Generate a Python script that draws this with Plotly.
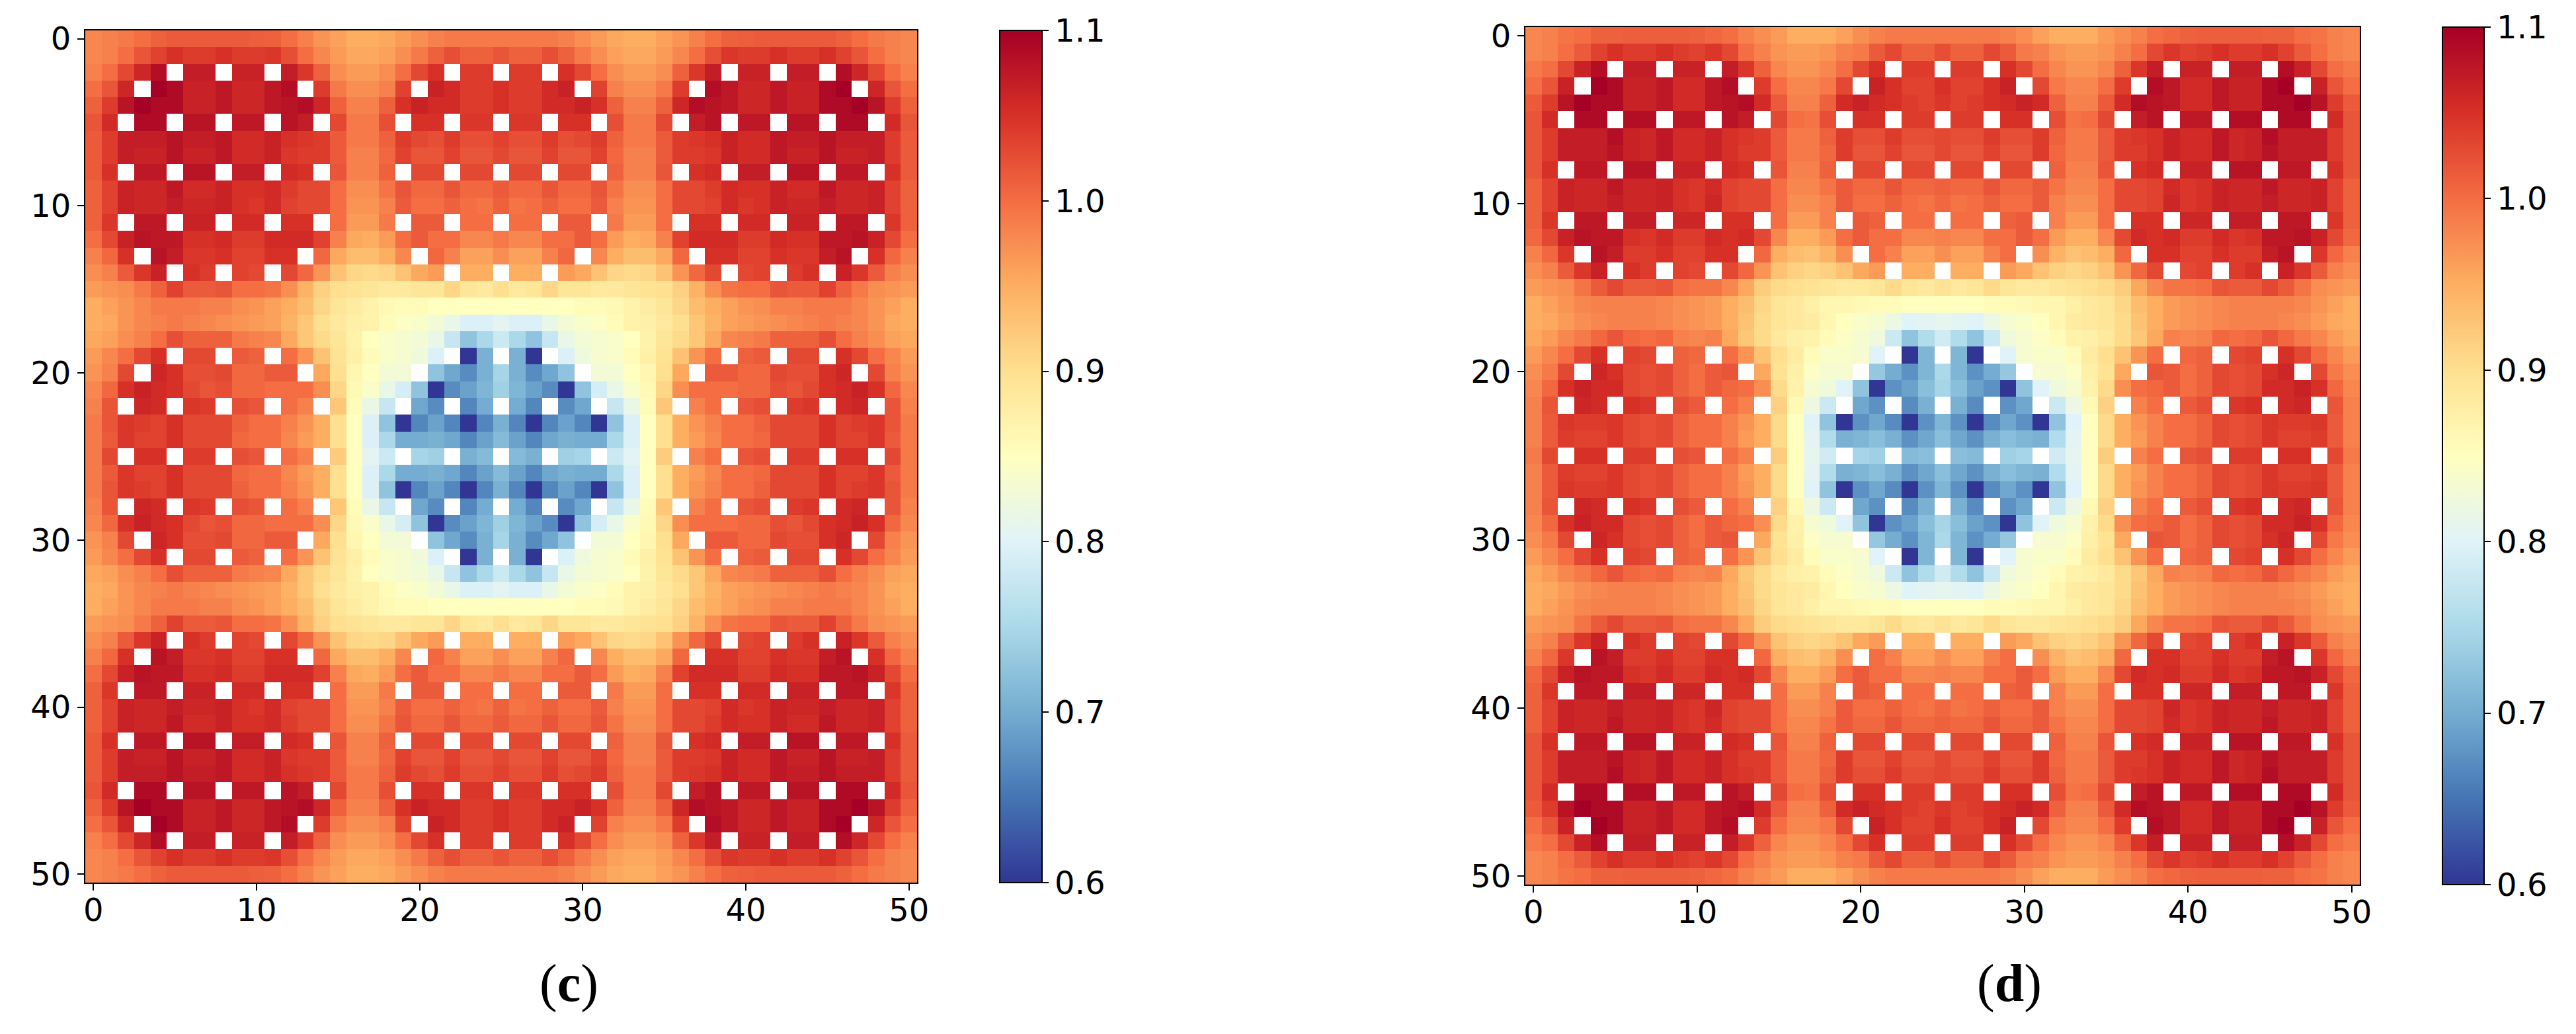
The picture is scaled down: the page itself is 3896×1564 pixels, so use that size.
import plotly.graph_objects as go

H = None  # white cell with no value

# Values. Each panel is mirror-symmetric left/right and top/bottom,
# so rows 0-25 and columns 0-25 carry the reading.
panel_c_rows = [
    [.98,.985,.99,1.0,1.01,1.015,1.015,1.015,1.015,1.015,1.012,1.01,1.0,.985,.97,.96,.95,.95,.955,.965,.975,.985,.99,.99,.99,.99],
    [.98,.985,1.0,1.02,1.035,1.05,1.04,1.04,1.05,1.04,1.04,1.045,1.025,1.0,.98,.965,.955,.955,.96,.975,.99,1.01,1.025,1.01,1.01,1.02],
    [.985,1.0,1.03,1.06,1.085,H,1.07,1.07,H,1.065,1.065,H,1.07,1.045,1.01,.975,.965,.965,.975,1.0,1.03,1.05,H,1.04,1.04,H],
    [1.0,1.02,1.06,H,1.1,1.09,1.065,1.065,1.075,1.06,1.06,1.075,1.085,H,1.04,.99,.975,.975,.985,1.035,H,1.065,1.055,1.04,1.04,1.05],
    [1.01,1.04,1.08,1.1,1.09,1.09,1.065,1.065,1.075,1.06,1.06,1.075,1.08,1.085,1.06,1.01,.985,.985,1.01,1.05,1.065,1.055,1.055,1.04,1.04,1.05],
    [1.02,1.055,H,1.09,1.09,H,1.08,1.08,H,1.075,1.075,H,1.08,1.07,H,1.03,.99,.99,1.025,H,1.05,1.05,H,1.045,1.045,H],
    [1.015,1.04,1.07,1.07,1.07,1.08,1.07,1.07,1.075,1.055,1.055,1.065,1.05,1.045,1.04,1.015,.99,.99,1.01,1.04,1.03,1.025,1.04,1.025,1.025,1.035],
    [1.015,1.04,1.07,1.065,1.065,1.08,1.065,1.065,1.075,1.055,1.055,1.065,1.045,1.04,1.04,1.015,.985,.985,1.005,1.035,1.02,1.02,1.035,1.02,1.02,1.03],
    [1.015,1.05,H,1.075,1.075,H,1.08,1.08,H,1.07,1.07,H,1.055,1.05,H,1.02,.985,.985,1.01,H,1.03,1.03,H,1.03,1.03,H],
    [1.01,1.035,1.065,1.06,1.06,1.075,1.055,1.055,1.065,1.05,1.05,1.055,1.04,1.03,1.03,1.0,.975,.975,.995,1.02,1.005,1.005,1.02,1.005,1.005,1.015],
    [1.01,1.035,1.065,1.06,1.06,1.07,1.06,1.06,1.065,1.05,1.045,1.055,1.035,1.03,1.03,1.0,.97,.97,.985,1.015,1.0,1.0,1.01,1.0,.995,1.01],
    [1.01,1.045,H,1.075,1.075,H,1.065,1.065,H,1.055,1.055,H,1.05,1.05,H,1.0,.965,.965,.99,H,1.015,1.015,H,1.0,1.0,H],
    [1.0,1.03,1.065,1.08,1.075,1.075,1.05,1.05,1.055,1.04,1.04,1.055,1.055,1.055,1.035,.985,.955,.95,.965,1.0,1.015,1.0,1.0,.98,.98,.99],
    [.985,1.005,1.05,H,1.08,1.07,1.045,1.045,1.05,1.035,1.035,1.05,1.05,H,1.005,.955,.935,.935,.95,.98,H,1.005,.985,.96,.96,.975],
    [.975,.985,1.015,1.045,1.065,H,1.05,1.04,H,1.035,1.03,H,1.03,1.005,.97,.93,.91,.905,.91,.93,.955,.965,H,.95,.95,H],
    [.965,.97,.975,.99,1.01,1.035,1.015,1.015,1.02,1.0,1.0,.995,.975,.945,.915,.90,.895,.89,.885,.885,.89,.89,.91,.89,.885,.9],
    [.95,.96,.97,.98,.99,.99,.99,.985,.985,.975,.97,.96,.95,.935,.91,.89,.88,.87,.86,.855,.855,.85,.85,.85,.85,.85],
    [.95,.955,.97,.98,.985,.99,.985,.98,.975,.97,.965,.96,.945,.925,.9,.885,.875,.87,.855,.845,.84,.83,.815,.795,.795,.805],
    [.955,.96,.975,.985,1.0,1.025,1.01,1.01,1.01,.99,.985,.98,.955,.925,.905,.89,.87,.85,.84,.835,.83,.815,.775,.725,.75,.78],
    [.965,.98,1.0,1.03,1.05,H,1.03,1.03,H,1.015,1.01,H,1.0,.97,.93,.895,.875,.855,.84,.835,.825,.795,H,.6,.705,H],
    [.97,.985,1.03,H,1.06,1.05,1.025,1.025,1.03,1.005,1.005,1.015,1.015,H,.955,.9,.865,.85,.83,.83,H,.725,.695,.67,.705,.745],
    [.98,1.005,1.05,1.065,1.055,1.05,1.03,1.02,1.025,1.005,1.005,1.0,1.0,1.0,.975,.91,.86,.84,.815,.79,.725,.6,.67,.69,.71,.74],
    [.985,1.02,H,1.06,1.055,H,1.045,1.04,H,1.025,1.02,H,1.0,.985,H,.925,.855,.815,.775,H,.695,.67,H,.665,.70,H],
    [.99,1.02,1.045,1.04,1.035,1.05,1.03,1.03,1.03,1.01,1.0,1.0,.985,.97,.95,.9,.85,.795,.725,.6,.665,.69,.665,.6,.665,.705],
    [.99,1.015,1.045,1.035,1.035,1.05,1.03,1.03,1.03,1.005,1.0,1.0,.98,.965,.95,.9,.85,.795,.75,.70,.70,.705,.695,.665,.69,.715],
    [.99,1.03,H,1.05,1.05,H,1.04,1.04,H,1.025,1.02,H,1.0,.985,H,.92,.85,.805,.78,H,.745,.74,H,.705,.715,H],
]

panel_d_rows = [
    [.98,.985,.995,1.0,1.01,1.01,1.012,1.012,1.012,1.012,1.01,1.005,1.0,.985,.975,.965,.95,.95,.95,.96,.975,.985,.99,.99,.99,.99],
    [.98,.985,1.0,1.015,1.035,1.05,1.04,1.04,1.05,1.04,1.035,1.045,1.03,1.0,.985,.97,.965,.965,.97,.985,.99,1.015,1.03,1.01,1.01,1.025],
    [.99,1.0,1.03,1.065,1.085,H,1.07,1.07,H,1.065,1.065,H,1.07,1.045,1.01,.98,.97,.97,.98,1.0,1.03,1.05,H,1.04,1.04,H],
    [1.0,1.02,1.065,H,1.1,1.09,1.065,1.065,1.075,1.055,1.055,1.075,1.085,H,1.04,1.0,.98,.98,.99,1.03,H,1.065,1.05,1.035,1.035,1.05],
    [1.015,1.04,1.08,1.1,1.09,1.09,1.065,1.065,1.075,1.055,1.055,1.075,1.08,1.085,1.055,1.015,.985,.985,1.01,1.055,1.065,1.055,1.05,1.04,1.035,1.045],
    [1.02,1.055,H,1.09,1.09,H,1.085,1.085,H,1.075,1.075,H,1.08,1.07,H,1.03,1.0,.995,1.025,H,1.05,1.05,H,1.04,1.04,H],
    [1.02,1.04,1.07,1.07,1.07,1.085,1.065,1.06,1.075,1.055,1.055,1.065,1.05,1.045,1.04,1.015,.99,.99,1.01,1.04,1.025,1.025,1.04,1.025,1.025,1.03],
    [1.02,1.04,1.07,1.07,1.07,1.08,1.065,1.06,1.075,1.055,1.055,1.065,1.05,1.04,1.04,1.015,.99,.99,1.005,1.04,1.02,1.02,1.035,1.02,1.02,1.03],
    [1.02,1.05,H,1.075,1.075,H,1.08,1.08,H,1.065,1.065,H,1.055,1.05,H,1.02,.985,.985,1.01,H,1.03,1.03,H,1.03,1.03,H],
    [1.01,1.035,1.065,1.06,1.06,1.075,1.06,1.06,1.065,1.05,1.045,1.055,1.035,1.03,1.03,1.0,.98,.98,.995,1.015,1.005,1.005,1.02,1.005,1.005,1.01],
    [1.01,1.035,1.065,1.06,1.06,1.07,1.06,1.06,1.065,1.05,1.045,1.06,1.035,1.03,1.03,1.0,.975,.975,.985,1.015,1.0,1.0,1.01,1.0,.995,1.005],
    [1.01,1.045,H,1.075,1.075,H,1.07,1.07,H,1.06,1.06,H,1.05,1.05,H,1.0,.965,.965,.985,H,1.015,1.01,H,1.0,1.0,H],
    [1.005,1.03,1.065,1.08,1.075,1.075,1.05,1.045,1.055,1.04,1.04,1.055,1.05,1.055,1.03,.98,.95,.95,.965,1.0,1.015,1.0,1.0,.98,.98,.985],
    [.985,1.005,1.045,H,1.08,1.07,1.04,1.04,1.05,1.035,1.035,1.05,1.05,H,1.005,.95,.935,.93,.945,.975,H,1.0,.985,.96,.96,.975],
    [.975,.985,1.015,1.045,1.065,H,1.05,1.04,H,1.035,1.03,H,1.03,1.005,.97,.93,.915,.91,.915,.93,.955,.965,H,.95,.95,H],
    [.965,.97,.975,.995,1.015,1.03,1.015,1.015,1.02,1.0,.995,.995,.98,.955,.92,.905,.90,.895,.89,.885,.885,.89,.905,.89,.885,.895],
    [.95,.96,.97,.98,.985,.985,.985,.985,.98,.975,.97,.965,.95,.935,.91,.89,.885,.875,.865,.865,.86,.855,.855,.85,.85,.85],
    [.95,.955,.965,.975,.98,.985,.985,.985,.98,.975,.97,.965,.95,.93,.905,.89,.885,.88,.865,.85,.84,.835,.82,.80,.805,.81],
    [.955,.965,.98,.99,1.005,1.02,1.005,1.0,1.005,.985,.98,.985,.955,.925,.905,.885,.875,.87,.855,.845,.835,.825,.78,.725,.755,.785],
    [.965,.98,1.0,1.03,1.05,H,1.035,1.03,H,1.01,1.005,H,1.0,.97,.93,.9,.88,.855,.84,.84,.835,.80,H,.6,.71,H],
    [.975,.99,1.03,H,1.06,1.05,1.03,1.025,1.03,1.01,1.0,1.015,1.02,H,.955,.895,.875,.845,.835,.835,H,.73,.70,.675,.71,.75],
    [.98,1.005,1.05,1.065,1.055,1.055,1.03,1.025,1.03,1.01,1.0,1.015,1.005,1.0,.975,.905,.87,.835,.825,.80,.725,.6,.675,.69,.72,.745],
    [.985,1.02,H,1.06,1.055,H,1.05,1.045,H,1.025,1.015,H,1.0,.985,H,.915,.86,.82,.78,H,.695,.675,H,.67,.705,H],
    [.985,1.015,1.045,1.04,1.04,1.045,1.03,1.025,1.03,1.01,1.0,1.0,.985,.97,.95,.905,.85,.80,.725,.6,.675,.695,.67,.6,.675,.71],
    [.985,1.015,1.04,1.035,1.035,1.045,1.03,1.025,1.03,1.01,1.0,1.0,.985,.965,.95,.905,.85,.805,.755,.705,.71,.72,.705,.675,.695,.72],
    [.99,1.03,H,1.05,1.05,H,1.04,1.04,H,1.025,1.02,H,1.0,.985,H,.92,.85,.81,.785,H,.745,.74,H,.715,.72,H],
]

axis_ticks = [0, 10, 20, 30, 40, 50]
colorbar_ticks = [0.6, 0.7, 0.8, 0.9, 1.0, 1.1]
panel_labels = ["c", "d"]

W, HT = 3896, 1564


def mirrored(rows):
    for r in rows:
        assert len(r) == 26
    assert len(rows) == 26
    full = [r + r[-2::-1] for r in rows]
    return full + full[-2::-1]


def px_x(v):
    return v / W


def px_y(v):
    return 1 - v / HT


panels = [
    dict(rows=panel_c_rows, left=129, right=1387, top=46, bottom=1335,
         bar_left=1512, bar_w=64, label_x=860, xa="x", ya="y"),
    dict(rows=panel_d_rows, left=2307, right=3569, top=41, bottom=1338,
         bar_left=3694, bar_w=63, label_x=3039, xa="x2", ya="y2"),
]

tick_font = dict(family="DejaVu Sans", size=48, color="black")
fig = go.Figure()
layout = {}
for i, p in enumerate(panels):
    fig.add_trace(go.Heatmap(
        z=mirrored(p["rows"]),
        x=list(range(51)), y=list(range(51)),
        xaxis=p["xa"], yaxis=p["ya"],
        colorscale="RdYlBu_r", zmin=0.6, zmax=1.1,
        hoverongaps=False,
        colorbar=dict(
            x=px_x(p["bar_left"]), xanchor="left", xpad=0, ypad=0,
            y=px_y(p["bottom"]), yanchor="bottom",
            len=(p["bottom"] - p["top"]) / HT, lenmode="fraction",
            thickness=p["bar_w"], thicknessmode="pixels",
            tickmode="array", tickvals=colorbar_ticks,
            ticktext=[f"{v:.1f}" for v in colorbar_ticks],
            ticks="outside", ticklen=9, tickwidth=2, tickcolor="black",
            tickfont=tick_font, outlinecolor="black", outlinewidth=2,
        ),
    ))
    suffix = "" if i == 0 else "2"
    common = dict(
        tickmode="array", tickvals=axis_ticks, ticktext=[str(t) for t in axis_ticks],
        ticks="outside", ticklen=10, tickwidth=2, tickcolor="black",
        tickfont=tick_font, showgrid=False, zeroline=False,
        showline=True, mirror=True, linecolor="black", linewidth=2,
    )
    layout["xaxis" + suffix] = dict(
        domain=[px_x(p["left"]), px_x(p["right"])], range=[-0.5, 50.5],
        anchor=p["ya"], ticklabelstandoff=-12, **common)
    layout["yaxis" + suffix] = dict(
        domain=[px_y(p["bottom"]), px_y(p["top"])], range=[50.5, -0.5],
        anchor=p["xa"], **common)

annotations = [
    dict(text=f"(<b>{name}</b>)", x=px_x(p["label_x"]), y=px_y(1487),
         xref="paper", yref="paper", xanchor="center", yanchor="middle",
         showarrow=False, font=dict(family="Liberation Serif", size=80, color="black"))
    for name, p in zip(panel_labels, panels)
]

fig.update_layout(
    width=W, height=HT, margin=dict(l=0, r=0, t=0, b=0, autoexpand=False),
    paper_bgcolor="white", plot_bgcolor="white",
    annotations=annotations, **layout,
)
fig.write_html("out.html", config={"displayModeBar": False},
               post_script="document.body.style.margin='0';document.body.style.overflow='hidden';")
